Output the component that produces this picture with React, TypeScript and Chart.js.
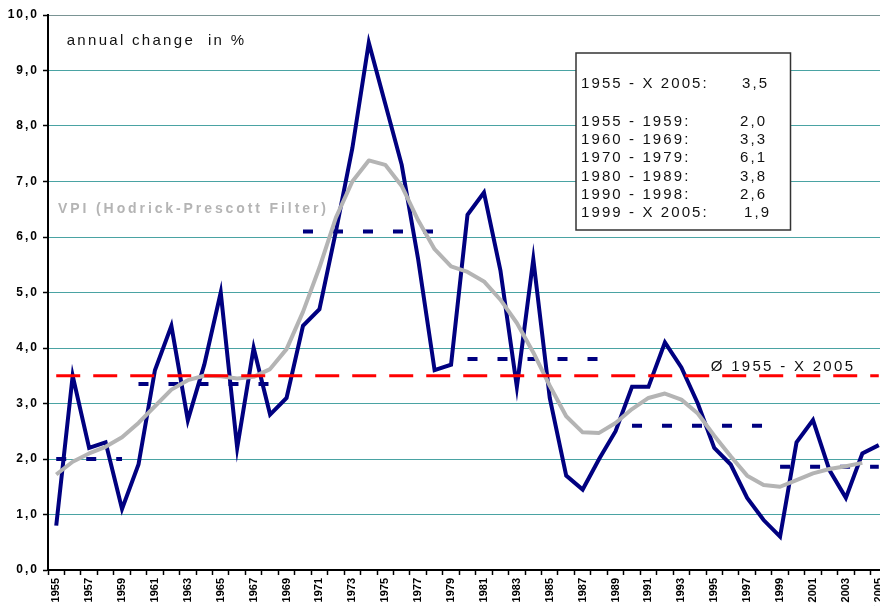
import { useEffect, useRef } from 'react';
import { Chart, registerables } from 'chart.js';

Chart.register(...registerables);

const FONT = '"Liberation Sans", Arial, Helvetica, sans-serif';

const years = [
  '1955', '1956', '1957', '1958', '1959', '1960', '1961', '1962', '1963', '1964',
  '1965', '1966', '1967', '1968', '1969', '1970', '1971', '1972', '1973', '1974',
  '1975', '1976', '1977', '1978', '1979', '1980', '1981', '1982', '1983', '1984',
  '1985', '1986', '1987', '1988', '1989', '1990', '1991', '1992', '1993', '1994',
  '1995', '1996', '1997', '1998', '1999', '2000', '2001', '2002', '2003', '2004',
  'X 2005',
];

const inflation = [
  0.8, 3.5, 2.2, 2.3, 1.1, 1.9, 3.6, 4.4, 2.7, 3.7,
  5.0, 2.2, 4.0, 2.8, 3.1, 4.4, 4.7, 6.1, 7.6, 9.5,
  8.4, 7.3, 5.6, 3.6, 3.7, 6.4, 6.8, 5.4, 3.3, 5.6,
  3.1, 1.7, 1.45, 2.0, 2.5, 3.3, 3.3, 4.1, 3.65, 3.0,
  2.2, 1.9, 1.3, 0.9, 0.6, 2.3, 2.7, 1.8, 1.3, 2.1,
  2.25,
];

const hpTrend: (number | null)[] = [
  1.72, 1.95, 2.1, 2.22, 2.39, 2.65, 2.95, 3.25, 3.42, 3.5,
  3.49, 3.45, 3.48, 3.62, 3.98, 4.65, 5.45, 6.35, 7.0, 7.38,
  7.3, 6.92, 6.3, 5.78, 5.47, 5.37, 5.2, 4.87, 4.45, 3.92,
  3.32, 2.77, 2.48, 2.47, 2.65, 2.9, 3.1, 3.18, 3.07, 2.82,
  2.42, 2.05, 1.7, 1.53, 1.5, 1.62, 1.74, 1.82, 1.87, 1.93,
  null,
];

const overallMean = 3.5;

const periodStarts = ['1955', '1960', '1970', '1980', '1990', '1999'];
const periodEnds = ['1959', '1969', '1979', '1989', '1998', 'X 2005'];
const periodMeans = [2.0, 3.35, 6.1, 3.8, 2.6, 1.86];

const summaryLabels = [
  '1955 - X 2005:',
  '1955 - 1959:',
  '1960 - 1969:',
  '1970 - 1979:',
  '1980 - 1989:',
  '1990 - 1998:',
  '1999 - X 2005:',
];
const summaryValues = ['3,5', '2,0', '3,3', '6,1', '3,8', '2,6', '1,9'];

const yAxisTitle = 'annual change  in %';
const trendLabel = 'VPI (Hodrick-Prescott Filter)';
const meanLabel = 'Ø 1955 - X 2005';

// layout for the summary box (canvas coordinates)
const boxRect = { x: 568, y: 45, w: 214.5, h: 177 };
const summaryBaselines = [80.3, 117.7, 136, 154.3, 172.7, 191, 209.3];
const summaryValueX = [734, 732, 732, 732, 732, 732, 736];

const fmt = (v: number) => v.toFixed(1).replace('.', ',');

const annotate = {
  id: 'annotate',
  afterDraw(chart: any) {
    const ctx: CanvasRenderingContext2D = chart.ctx;
    const ys = chart.scales.y;
    const area = chart.chartArea;
    ctx.save();
    // y tick labels
    ctx.font = `bold 12px ${FONT}`;
    ctx.fillStyle = '#000';
    ctx.textAlign = 'right';
    ctx.textBaseline = 'middle';
    (ctx as any).letterSpacing = '2px';
    ys.ticks.forEach((t: any) => {
      ctx.fillText(fmt(t.value), area.left - 9, ys.getPixelForValue(t.value));
    });

    ctx.textAlign = 'left';
    ctx.textBaseline = 'alphabetic';

    // axis title
    ctx.font = `15px ${FONT}`;
    (ctx as any).letterSpacing = '2.3px';
    ctx.fillStyle = '#111';
    ctx.fillText(yAxisTitle, 58.7, 37);

    // mean label
    ctx.fillText(meanLabel, 702.7, 362.7);

    // trend label
    ctx.font = `bold 14px ${FONT}`;
    (ctx as any).letterSpacing = '2.9px';
    ctx.fillStyle = '#b4b4b4';
    ctx.fillText(trendLabel, 50, 204.7);

    // summary box
    ctx.fillStyle = '#fff';
    ctx.fillRect(boxRect.x, boxRect.y, boxRect.w, boxRect.h);
    ctx.strokeStyle = '#333';
    ctx.lineWidth = 1.5;
    ctx.strokeRect(boxRect.x, boxRect.y, boxRect.w, boxRect.h);
    ctx.font = `15px ${FONT}`;
    (ctx as any).letterSpacing = '2.1px';
    ctx.fillStyle = '#111';
    summaryLabels.forEach((lab, i) => {
      ctx.fillText(lab, boxRect.x + 5, summaryBaselines[i]);
      ctx.fillText(summaryValues[i], summaryValueX[i], summaryBaselines[i]);
    });
    ctx.restore();
  },
};

export default function App() {
  const ref = useRef<HTMLCanvasElement | null>(null);

  useEffect(() => {
    if (!ref.current) return;
    Chart.defaults.font.family = FONT;

    const periodSets = periodMeans.map((m, k) => {
      const s = years.indexOf(periodStarts[k]);
      const e = years.indexOf(periodEnds[k]);
      return {
        label: `${periodStarts[k]}-${periodEnds[k]}`,
        data: years.map((_, i) => (i >= s && i <= e ? m : null)),
        borderColor: '#000080',
        borderWidth: 4,
        borderDash: [10, 20],
        borderCapStyle: 'butt' as const,
        pointRadius: 0,
        fill: false,
        order: 2,
      };
    });

    const chart = new Chart(ref.current, {
      type: 'line',
      data: {
        labels: years,
        datasets: [
          {
            label: 'mean',
            data: years.map(() => overallMean),
            borderColor: '#ff0000',
            borderWidth: 3,
            borderDash: [24, 13],
            borderCapStyle: 'butt',
            pointRadius: 0,
            fill: false,
            order: 0,
          },
          {
            label: 'HP',
            data: hpTrend,
            borderColor: '#b4b4b4',
            borderWidth: 4,
            borderJoinStyle: 'round',
            pointRadius: 0,
            tension: 0,
            fill: false,
            order: 1,
          },
          ...periodSets,
          {
            label: 'VPI',
            data: inflation,
            borderColor: '#000080',
            borderWidth: 4,
            borderJoinStyle: 'miter',
            pointRadius: 0,
            tension: 0,
            fill: false,
            order: 3,
          },
        ],
      },
      options: {
        responsive: false,
        maintainAspectRatio: false,
        devicePixelRatio: 1,
        animation: false,
        layout: { padding: { top: 7, right: 2, left: 0, bottom: 0 } },
        plugins: {
          legend: { display: false },
          tooltip: { enabled: false },
        },
        scales: {
          x: {
            type: 'category',
            offset: true,
            afterFit: (s: any) => {
              s.height = 36;
            },
            grid: {
              offset: true,
              drawOnChartArea: false,
              drawTicks: true,
              tickLength: 5,
              tickColor: '#000',
              tickWidth: 1.5,
            },
            border: { color: '#000', width: 2 },
            ticks: {
              autoSkip: false,
              maxRotation: 90,
              minRotation: 90,
              padding: 3,
              color: '#000',
              font: { size: 11, weight: 'bold', family: FONT },
              callback: (_v: any, i: number) => (i % 2 === 0 ? years[i] : ''),
            },
          },
          y: {
            min: 0,
            max: 10,
            afterFit: (s: any) => {
              s.width = 40;
            },
            ticks: { stepSize: 1, display: false },
            grid: {
              color: (c: any) => (c.tick && c.tick.value === 10 ? '#7a9494' : '#4aa3a3'),
              lineWidth: 1,
              drawTicks: true,
              tickLength: 5,
              tickColor: '#000',
              tickWidth: 1.5,
            },
            border: { color: '#000', width: 2 },
          },
        },
      },
      plugins: [annotate],
    });
    return () => chart.destroy();
  }, []);

  return (
    <div style={{ position: 'fixed', left: 8, top: 8, width: 872, height: 598, overflow: 'hidden' }}>
      <canvas ref={ref} width={887} height={598} style={{ display: 'block', width: 887, height: 598 }} />
    </div>
  );
}
